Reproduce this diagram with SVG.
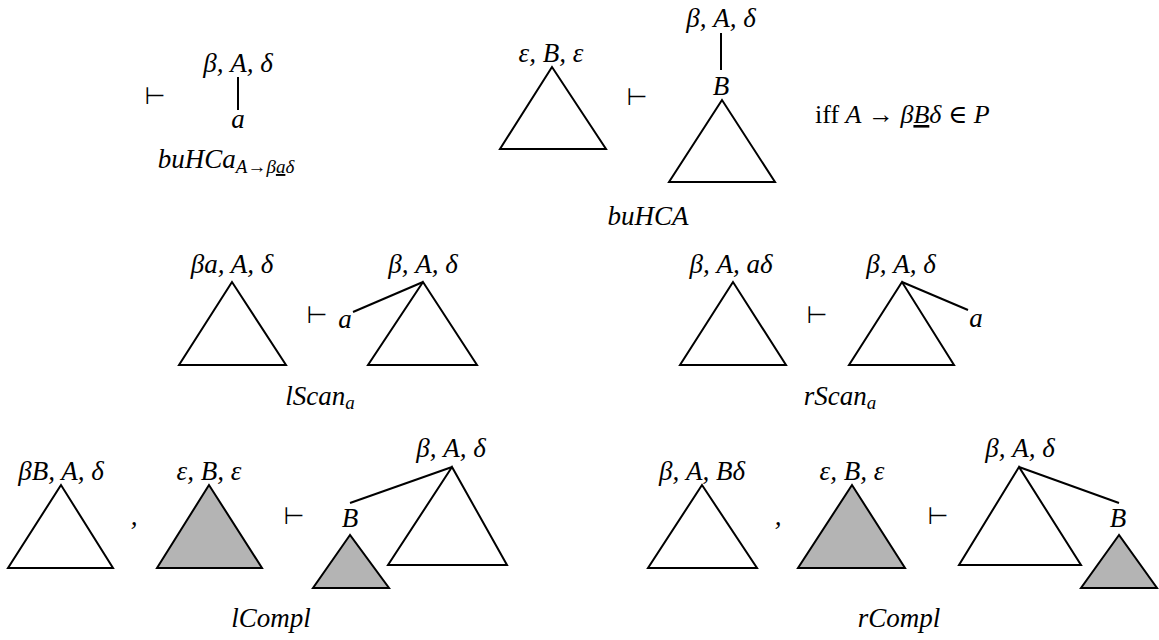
<svg xmlns="http://www.w3.org/2000/svg" width="1159" height="640" viewBox="0 0 1159 640">
<style>
.t{font-family:"Liberation Serif","DejaVu Serif",serif;font-style:italic;font-size:27px;fill:#000;text-anchor:middle}
.r{font-family:"Liberation Serif","DejaVu Serif",serif;font-size:26px;fill:#000}
.s{font-size:19px}
.tri{fill:#fff;stroke:#000;stroke-width:2;stroke-linejoin:miter}
.sh{fill:#b4b4b4;stroke:#000;stroke-width:2}
.ln{stroke:#000;stroke-width:2;fill:none}
.ts{font-family:"DejaVu Sans",sans-serif;font-size:24px;fill:#000;text-anchor:middle}
</style>
<rect width="1159" height="640" fill="#fff"/>

<g id="buHCa">
<text class="ts" x="155" y="104">⊢</text>
<text class="t" x="238" y="72">β, A, δ</text>
<text class="t" x="238" y="128">a</text>
<text class="t" x="226" y="168">buHCa<tspan class="s" dy="5">A→β<tspan text-decoration="underline">a</tspan>δ</tspan></text>
</g>

<g id="buHCA">
<text class="t" x="551" y="62">ε, B, ε</text>
<polygon class="tri" points="552,67 500,149 606,149"/>
<text class="ts" x="637" y="105">⊢</text>
<text class="t" x="721" y="27">β, A, δ</text>
<text class="t" x="721" y="95">B</text>
<polygon class="tri" points="722,100 669,182 775,182"/>
<text class="t" x="648" y="225">buHCA</text>
<text class="r" x="815" y="123">iff <tspan font-style="italic">A</tspan> → <tspan font-style="italic">β<tspan text-decoration="underline">B</tspan>δ</tspan> ∈ <tspan font-style="italic">P</tspan></text>
</g>

<g id="lScan">
<text class="t" x="232" y="273">βa, A, δ</text>
<polygon class="tri" points="232,282 179,365 286,365"/>
<text class="ts" x="317" y="323">⊢</text>
<text class="t" x="345" y="328">a</text>
<text class="t" x="423" y="273">β, A, δ</text>
<polygon class="tri" points="423,282 368,365 477,365"/>
<text class="t" x="320" y="405">lScan<tspan class="s" dy="4">a</tspan></text>
</g>

<g id="rScan">
<text class="t" x="731" y="273">β, A, aδ</text>
<polygon class="tri" points="733,282 680,365 786,365"/>
<text class="ts" x="817" y="323">⊢</text>
<text class="t" x="901" y="273">β, A, δ</text>
<polygon class="tri" points="902,282 849,365 954,365"/>
<text class="t" x="976" y="327">a</text>
<text class="t" x="840" y="405">rScan<tspan class="s" dy="4">a</tspan></text>
</g>

<g id="lCompl">
<text class="t" x="61" y="480">βB, A, δ</text>
<polygon class="tri" points="61,485 8,568 113,568"/>
<text class="t" x="134" y="525">,</text>
<text class="t" x="209" y="480">ε, B, ε</text>
<polygon class="sh" points="209,485 157,568 262,568"/>
<text class="ts" x="294" y="524">⊢</text>
<text class="t" x="451" y="457">β, A, δ</text>
<polygon class="tri" points="452,467 388,565 507,565"/>
<text class="t" x="350" y="527">B</text>
<polygon class="sh" points="350,535 313,588 389,588"/>
<text class="t" x="271" y="627">lCompl</text>
</g>

<g id="rCompl">
<text class="t" x="702" y="480">β, A, Bδ</text>
<polygon class="tri" points="702,485 648,568 757,568"/>
<text class="t" x="778" y="525">,</text>
<text class="t" x="852" y="480">ε, B, ε</text>
<polygon class="sh" points="852,485 798,568 905,568"/>
<text class="ts" x="938" y="524">⊢</text>
<text class="t" x="1020" y="457">β, A, δ</text>
<polygon class="tri" points="1019,467 959,565 1081,565"/>
<text class="t" x="1118" y="527">B</text>
<polygon class="sh" points="1119,535 1081,588 1157,588"/>
<text class="t" x="899" y="627">rCompl</text>
</g>

<g id="connectors">
<line class="ln" x1="238" y1="77" x2="238" y2="110"/>
<line class="ln" x1="721" y1="33" x2="721" y2="70"/>
<line class="ln" x1="353" y1="312" x2="423" y2="282"/>
<line class="ln" x1="902" y1="282" x2="968" y2="310"/>
<line class="ln" x1="350" y1="503" x2="452" y2="467"/>
<line class="ln" x1="1019" y1="467" x2="1119" y2="503"/>
</g>
</svg>
